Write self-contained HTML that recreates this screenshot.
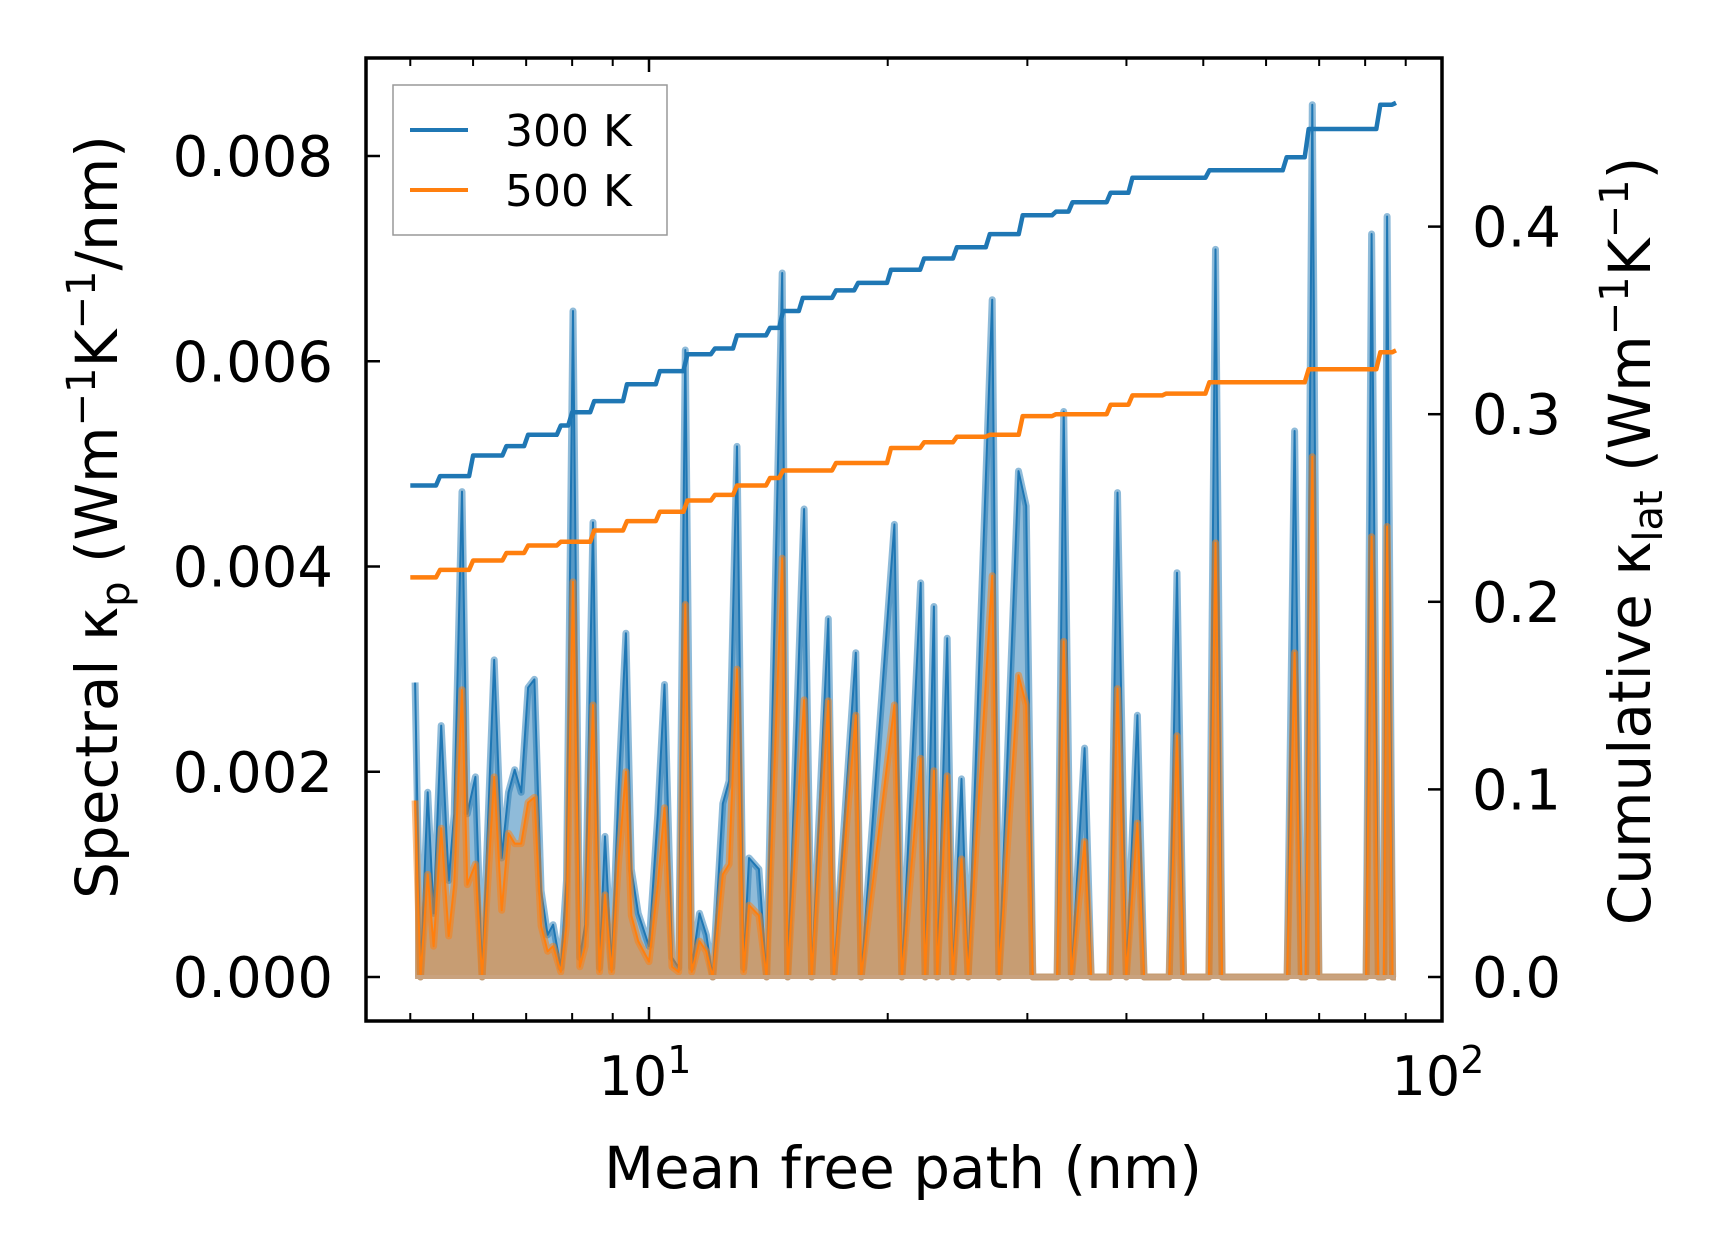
<!DOCTYPE html>
<html><head><meta charset="utf-8"><style>
html,body{margin:0;padding:0;background:#fff}
svg{display:block;font-family:"DejaVu Sans","Liberation Sans",sans-serif}
</style></head><body>
<svg id="chart" width="1716" height="1254" viewBox="0 0 1716 1254" xmlns="http://www.w3.org/2000/svg">
<rect width="1716" height="1254" fill="#fff"/>
<g id="marks"></g>
<g id="axes"></g>
<g>
  <rect x="393" y="85" width="274" height="150" fill="#fff" fill-opacity="0.8" stroke="#999" stroke-width="1.5"/>
  <line x1="410" y1="130" x2="468" y2="130" stroke="#1f77b4" stroke-width="4"/>
  <text x="505" y="146" font-size="44">300 K</text>
  <line x1="410" y1="190" x2="468" y2="190" stroke="#ff7f0e" stroke-width="4"/>
  <text x="505" y="206" font-size="44">500 K</text>
</g>
<text x="903" y="1188" font-size="58" text-anchor="middle">Mean free path (nm)</text>
<text transform="translate(117,517) rotate(-90)" font-size="58" text-anchor="middle">Spectral κ<tspan font-size="40" dy="12">p</tspan><tspan dy="-12"> (Wm</tspan><tspan font-size="40" dy="-22">−1</tspan><tspan dy="22">K</tspan><tspan font-size="40" dy="-22">−1</tspan><tspan dy="22">/nm)</tspan></text>
<text transform="translate(1650,541) rotate(-90)" font-size="58" text-anchor="middle">Cumulative κ<tspan font-size="40" dy="12">lat</tspan><tspan dy="-12"> (Wm</tspan><tspan font-size="40" dy="-22">−1</tspan><tspan dy="22">K</tspan><tspan font-size="40" dy="-22">−1</tspan><tspan dy="22">)</tspan></text>
</svg>
<script>
const mfp = [5.07,5.15,5.26,5.35,5.47,5.59,5.68,5.81,5.90,6.04,6.16,6.38,6.52,6.65,6.77,6.90,7.04,7.17,7.31,7.45,7.57,7.74,7.87,8.02,8.18,8.31,8.50,8.66,8.80,8.97,9.15,9.35,9.50,9.69,10.0,10.26,10.46,10.69,10.90,11.11,11.32,11.58,11.81,12.03,12.39,12.62,12.91,13.16,13.37,13.76,14.07,14.72,14.96,15.69,16.04,16.83,17.10,18.23,18.52,20.39,20.84,22.01,22.29,22.87,23.09,23.77,24.15,24.78,25.26,27.09,27.62,29.24,29.90,30.48,32.71,33.34,34.09,35.42,36.11,38.12,38.98,39.99,41.29,42.10,45.29,46.32,47.22,50.82,51.81,52.81,63.77,65.18,66.46,67.30,68.61,69.95,80.22,81.51,83.12,84.45,85.26,86.64,87.46];
const spec300 = [2.87,0,1.80,0.62,2.45,0.94,1.59,4.73,1.59,1.95,0,3.09,1.16,1.80,2.02,1.80,2.82,2.90,0.84,0.41,0.51,0.09,0.94,6.49,0.19,0.51,4.43,0.09,1.37,0.09,1.80,3.35,1.05,0.62,0.30,1.59,2.85,0.19,0.09,6.11,0.09,0.62,0.41,0,1.69,1.91,5.17,0.09,1.16,1.05,0,6.86,0,4.56,0,3.49,0,3.16,0,4.41,0,3.84,0,3.61,0,3.30,0,1.93,0,6.60,0,4.93,4.59,0,0,5.51,0,2.23,0,0,4.72,0,2.55,0,0,3.94,0,0,7.09,0,0,5.32,0,0,8.50,0,0,7.24,0,0,7.41,0,0].map(v=>v*1e-3);
const spec500 = [1.72,0,1.0,0.3,1.45,0.4,0.9,2.80,0.9,1.1,0,1.95,0.65,1.4,1.3,1.3,1.7,1.75,0.5,0.25,0.3,0.05,0.5,3.85,0.1,0.3,2.65,0.05,0.8,0.05,1.1,2.0,0.6,0.35,0.15,0.9,1.65,0.1,0.05,3.63,0.05,0.35,0.25,0,1.0,1.1,3.0,0.05,0.7,0.6,0,4.08,0,2.70,0,2.69,0,2.55,0,2.65,0,2.13,0,2.01,0,1.96,0,1.15,0,3.91,0,2.94,2.65,0,0,3.27,0,1.32,0,0,2.81,0,1.5,0,0,2.35,0,0,4.23,0,0,3.16,0,0,5.07,0,0,4.29,0,0,4.39,0,0].map(v=>v*1e-3);
const cumX300 = [5.00,5.45,6.00,6.61,7.04,7.74,8.00,8.53,9.38,10.32,11.18,12.11,12.91,14.21,14.76,15.63,17.21,18.35,20.19,22.23,24.45,26.9,29.6,32.6,34.2,38.2,40.7,44.9,50.9,63.7,67.9,79.7,83.6,87.5];
const cum300 = [0.262,0.267,0.278,0.283,0.289,0.294,0.301,0.307,0.316,0.323,0.332,0.335,0.342,0.346,0.355,0.362,0.366,0.370,0.377,0.383,0.389,0.396,0.406,0.408,0.413,0.418,0.426,0.426,0.430,0.437,0.452,0.452,0.465,0.466];
const cumX500 = [5.00,5.45,6.00,6.61,7.04,7.74,8.53,9.38,10.32,11.18,12.11,12.91,14.21,14.76,17.21,20.19,22.23,24.45,26.9,29.6,32.6,38.2,40.7,44.9,50.9,63.7,67.9,79.7,83.6,87.5];
const cum500 = [0.213,0.217,0.222,0.226,0.230,0.232,0.238,0.243,0.248,0.254,0.257,0.262,0.266,0.270,0.274,0.282,0.285,0.288,0.289,0.299,0.300,0.305,0.310,0.311,0.317,0.317,0.324,0.324,0.333,0.334];
const leftTicks = [0,0.002,0.004,0.006,0.008];
const leftTickLabels = ["0.000","0.002","0.004","0.006","0.008"];
const rightTicks = [0,0.1,0.2,0.3,0.4];
const rightTickLabels = ["0.0","0.1","0.2","0.3","0.4"];
const xMajor = [10,100];

const L=366,R=1442,T=58,B=1021;
const xs = v => 649 + Math.log10(v/10)*793;
const yl = v => 977 - v/0.002*205.25;
const yr = v => 977 - v/0.1*187.6;
const NS="http://www.w3.org/2000/svg";
function mk(tag,attrs,parent){const e=document.createElementNS(NS,tag);for(const k in attrs)e.setAttribute(k,attrs[k]);parent.appendChild(e);return e;}
const marks=document.getElementById('marks'), axes=document.getElementById('axes');

function area(vals,color,name){
  let d='M'+xs(mfp[0])+','+yl(0);
  mfp.forEach((m,i)=>{d+=' L'+xs(m).toFixed(1)+','+yl(vals[i]).toFixed(1);});
  d+=' L'+xs(mfp[mfp.length-1])+','+yl(0)+' Z';
  const f=mk('path',{d:d,fill:color,'fill-opacity':0.5,stroke:'none'},marks);
  
  
  let ld=''; mfp.forEach((m,i)=>{ld+=(i?' L':'M')+xs(m).toFixed(1)+','+yl(vals[i]).toFixed(1);});
  const h=mk('path',{d:ld,fill:'none',stroke:color,'stroke-opacity':0.5,'stroke-width':7,'stroke-linejoin':'round'},marks);
  
  
  const l=mk('path',{d:ld,fill:'none',stroke:color,'stroke-width':2,'stroke-linejoin':'round'},marks);
  
  
}
area(spec300,'#1f77b4','spectral-300k');
area(spec500,'#ff7f0e','spectral-500k');
const base=mk('line',{x1:xs(mfp[0]),x2:xs(mfp[mfp.length-1]),y1:yl(0),y2:yl(0),stroke:'#c9a27e','stroke-width':4},marks);



function cum(xa,va,color,name){
  let d='M'+xs(xa[0]).toFixed(1)+','+yr(va[0]).toFixed(1);
  for(let i=1;i<xa.length;i++){
    const x=xs(xa[i]);
    d+=' L'+(x-4).toFixed(1)+','+yr(va[i-1]).toFixed(1)+' L'+x.toFixed(1)+','+yr(va[i]).toFixed(1);
  }
  const p=mk('path',{d:d,fill:'none',stroke:color,'stroke-width':4.5,'stroke-linejoin':'round'},marks);
  
  
}
cum(cumX300,cum300,'#1f77b4','cumulative-300k');
cum(cumX500,cum500,'#ff7f0e','cumulative-500k');

const fr=mk('rect',{x:L,y:T,width:R-L,height:B-T,fill:'none',stroke:'#000','stroke-width':3.5},axes);


leftTicks.forEach((v,i)=>{
  const y=yl(v);
  const t=mk('line',{x1:L,x2:L+14,y1:y,y2:y,stroke:'#000','stroke-width':2.5},axes);
  
  
  const tx=mk('text',{x:333,y:y+20,'font-size':56,'text-anchor':'end'},axes);
  tx.textContent=leftTickLabels[i];
  
  
});
rightTicks.forEach((v,i)=>{
  const y=yr(v);
  const t=mk('line',{x1:R,x2:R-14,y1:y,y2:y,stroke:'#000','stroke-width':2.5},axes);
  
  
  const tx=mk('text',{x:1472,y:y+20,'font-size':56},axes);
  tx.textContent=rightTickLabels[i];
  
  
});
const minors=[5,6,7,8,9,20,30,40,50,60,70,80,90];
minors.forEach(v=>{
  const x=xs(v);
  [[B,B-8],[T,T+8]].forEach(([a,b])=>{
    const t=mk('line',{x1:x,x2:x,y1:a,y2:b,stroke:'#000','stroke-width':2},axes);
    
    
  });
});
xMajor.forEach(v=>{
  const x=xs(v);
  [[B,B-14],[T,T+14]].forEach(([a,b])=>{
    const t=mk('line',{x1:x,x2:x,y1:a,y2:b,stroke:'#000','stroke-width':2.5},axes);
    
    
  });
  const tx=mk('text',{x:x-4,y:1095,'font-size':54,'text-anchor':'middle'},axes);
  tx.textContent='10';
  const s=mk('tspan',{'font-size':38,dy:-22},tx);
  s.textContent=String(Math.round(Math.log10(v)));
  
  
});
</script>
</body></html>
